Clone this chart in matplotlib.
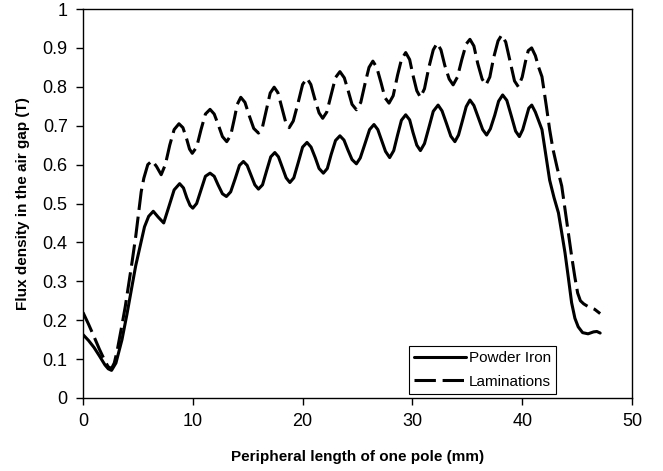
import matplotlib
matplotlib.use("Agg")
import matplotlib.pyplot as plt

# ---- data ----
powder_x = [0, 0.5, 1.0, 1.5, 2.0, 2.3, 2.6, 3.0, 3.55, 4.0, 4.46, 4.8, 5.2, 5.6, 5.98,
            6.4, 6.85, 7.35, 7.8, 8.3, 8.8, 9.15, 9.45, 9.75, 10.0, 10.35, 10.75, 11.15,
            11.57, 11.95, 12.3, 12.7, 13.06, 13.45, 13.85, 14.25, 14.61, 14.95, 15.3, 15.65,
            15.98, 16.35, 16.72, 17.1, 17.47, 17.8, 18.15, 18.5, 18.84, 19.2, 19.6, 20.0,
            20.4, 20.77, 21.15, 21.5, 21.89, 22.25, 22.6, 23.0, 23.4, 23.77, 24.12, 24.5,
            24.9, 25.25, 25.65, 26.1, 26.5, 26.85, 27.2, 27.55, 27.93, 28.3, 28.65, 29.0,
            29.39, 29.75, 30.05, 30.4, 30.73, 31.1, 31.5, 31.9, 32.34, 32.7, 33.1, 33.5,
            33.87, 34.2, 34.55, 34.9, 35.24, 35.6, 36.0, 36.4, 36.76, 37.1, 37.5, 37.85,
            38.22, 38.6, 39.0, 39.4, 39.74, 40.05, 40.35, 40.6, 40.87, 41.2, 41.8, 42.15,
            42.5, 42.9, 43.3, 43.6, 43.9, 44.2, 44.5, 44.8, 45.1, 45.5, 46.0, 46.5, 46.8, 47.1]
powder_y = [0.163, 0.148, 0.13, 0.108, 0.085, 0.075, 0.071, 0.09, 0.15, 0.215, 0.287, 0.34, 0.39, 0.44, 0.467,
            0.48, 0.465, 0.45, 0.49, 0.535, 0.551, 0.54, 0.515, 0.495, 0.488, 0.50, 0.535, 0.57,
            0.578, 0.57, 0.548, 0.525, 0.518, 0.53, 0.563, 0.598, 0.608, 0.598, 0.573, 0.548,
            0.537, 0.548, 0.584, 0.62, 0.631, 0.62, 0.593, 0.566, 0.554, 0.566, 0.605, 0.645,
            0.657, 0.645, 0.618, 0.59, 0.578, 0.59, 0.626, 0.662, 0.674, 0.663, 0.638, 0.613,
            0.602, 0.617, 0.651, 0.69, 0.703, 0.69, 0.662, 0.634, 0.618, 0.636, 0.676, 0.714,
            0.728, 0.715, 0.683, 0.65, 0.636, 0.654, 0.695, 0.737, 0.753, 0.738, 0.706, 0.673,
            0.659, 0.676, 0.712, 0.749, 0.766, 0.752, 0.721, 0.69, 0.676, 0.692, 0.727, 0.763,
            0.779, 0.765, 0.726, 0.686, 0.672, 0.69, 0.72, 0.745, 0.753, 0.735, 0.69, 0.625,
            0.56, 0.515, 0.476, 0.425, 0.373, 0.31, 0.245, 0.205, 0.183, 0.168, 0.165, 0.17, 0.171, 0.167]

lam_x = [0, 0.5, 1.0, 1.5, 2.0, 2.3, 2.6, 2.85, 3.1, 3.5, 3.85, 4.2, 4.46, 4.8, 5.07, 5.3, 5.54, 5.9,
         6.3, 6.7, 7.12, 7.5, 7.9, 8.3, 8.74, 9.1, 9.45, 9.7, 9.95, 10.35, 10.75, 11.15,
         11.57, 11.95, 12.35, 12.7, 13.09, 13.45, 13.8, 14.05, 14.37, 14.75, 15.15, 15.55,
         15.98, 16.35, 16.7, 17.05, 17.41, 17.75, 18.1, 18.45, 18.78, 19.15, 19.6, 20.0,
         20.4, 20.75, 21.1, 21.5, 21.83, 22.2, 22.6, 23.0, 23.4, 23.8, 24.15, 24.5,
         24.9, 25.3, 25.7, 26.05, 26.4, 26.75, 27.15, 27.5, 27.87, 28.25, 28.65, 29.0,
         29.39, 29.75, 30.05, 30.4, 30.73, 31.1, 31.5, 31.9, 32.25, 32.6, 32.95, 33.35,
         33.71, 34.1, 34.5, 34.9, 35.24, 35.6, 35.95, 36.35, 36.7, 37.05, 37.4, 37.8,
         38.13, 38.5, 38.9, 39.3, 39.65, 40.0, 40.3, 40.55, 40.86, 41.2, 41.5, 41.8,
         42.2, 42.5, 42.8, 43.2, 43.6, 43.9, 44.2, 44.5, 44.8, 45.05, 45.3, 45.6, 46.0, 46.6, 47.1]
lam_y = [0.22, 0.19, 0.158, 0.125, 0.095, 0.08, 0.076, 0.09, 0.12, 0.18, 0.235, 0.30, 0.348, 0.415, 0.476, 0.53, 0.565, 0.60,
         0.61, 0.595, 0.574, 0.6, 0.65, 0.69, 0.705, 0.695, 0.665, 0.64, 0.629, 0.645, 0.69, 0.73,
         0.742, 0.73, 0.70, 0.672, 0.659, 0.675, 0.72, 0.755, 0.773, 0.76, 0.725, 0.693,
         0.681, 0.697, 0.74, 0.784, 0.799, 0.785, 0.747, 0.71, 0.695, 0.712, 0.76, 0.806,
         0.822, 0.806, 0.77, 0.733, 0.719, 0.735, 0.78, 0.824, 0.839, 0.823, 0.79, 0.755,
         0.741, 0.76, 0.81, 0.85, 0.866, 0.85, 0.81, 0.772, 0.758, 0.777, 0.83, 0.87,
         0.888, 0.87, 0.83, 0.79, 0.773, 0.795, 0.85, 0.895, 0.912, 0.895, 0.855, 0.82,
         0.805, 0.825, 0.87, 0.91, 0.922, 0.905, 0.86, 0.82, 0.805, 0.825, 0.875, 0.918,
         0.933, 0.915, 0.865, 0.815, 0.80, 0.825, 0.865, 0.893, 0.90, 0.88, 0.85, 0.826,
         0.75, 0.69, 0.64, 0.59, 0.545, 0.485, 0.425, 0.365, 0.31, 0.27, 0.25, 0.242, 0.235, 0.228, 0.217]

series_labels = ["Powder Iron", "Laminations"]
x_ticks = [0, 10, 20, 30, 40, 50]
y_ticks = [0, 0.1, 0.2, 0.3, 0.4, 0.5, 0.6, 0.7, 0.8, 0.9, 1.0]
y_tick_labels = ["0", "0.1", "0.2", "0.3", "0.4", "0.5", "0.6", "0.7", "0.8", "0.9", "1"]
x_label = "Peripheral length of one pole (mm)"
y_label = "Flux density in the air gap (T)"

plt.rcParams["font.family"] = ["Liberation Sans", "DejaVu Sans"]

fig = plt.figure(figsize=(6.63, 4.71), dpi=100)
ax = fig.add_axes([83/663, 1 - 398/471, (632 - 83)/663, (398 - 9)/471])

ax.plot(powder_x, powder_y, color="black", lw=2.2, label=series_labels[0],
        solid_joinstyle="round", solid_capstyle="round")
ax.plot(lam_x, lam_y, color="black", lw=2.2, label=series_labels[1],
        dashes=(7, 2.2))

ax.set_xlim(0, 50)
ax.set_ylim(0, 1)
ax.set_xticks(x_ticks)
ax.set_xticklabels([str(t) for t in x_ticks])
ax.set_yticks(y_ticks)
ax.set_yticklabels(y_tick_labels)
ax.tick_params(direction="out", length=5, width=1, labelsize=13, pad=6,
               top=False, right=False)
for s in ax.spines.values():
    s.set_linewidth(1)
    s.set_color("black")

ax.set_xlabel(x_label, fontsize=11, fontweight="bold", labelpad=14)
ax.set_ylabel(y_label, fontsize=11, fontweight="bold", labelpad=9)

leg = ax.legend(loc="lower left", bbox_to_anchor=((409 - 83)/549, (398 - 394)/389),
                fontsize=11, frameon=True, fancybox=False, edgecolor="black",
                framealpha=1, handlelength=3.4, handletextpad=0.15,
                borderpad=0.35, labelspacing=0.6, borderaxespad=0)
leg.get_frame().set_linewidth(0.8)

fig.savefig("out.png", dpi=100)
